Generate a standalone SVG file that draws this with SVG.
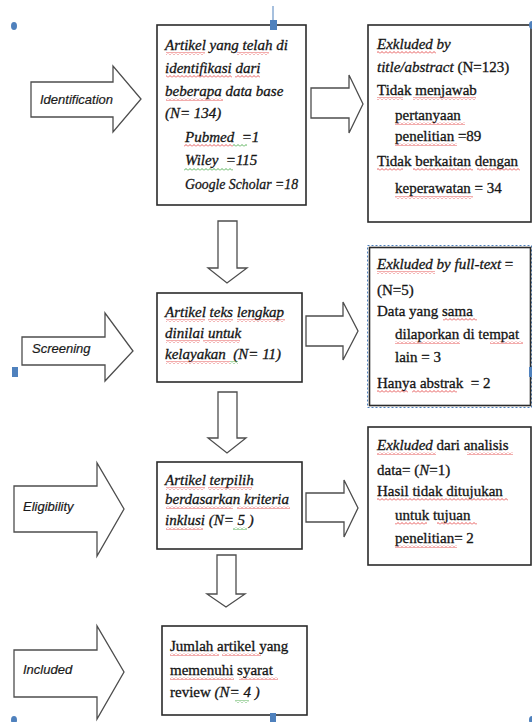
<svg xmlns="http://www.w3.org/2000/svg" width="532" height="722" viewBox="0 0 532 722">
<defs>
<style>
.box{fill:#fff;stroke:#2b2b2b;stroke-width:1.6}
.arr{fill:#fff;stroke:#4d4d4d;stroke-width:1.3;stroke-linejoin:miter}
.t{font-family:"Liberation Serif","Times New Roman",serif;font-size:15px;fill:#141414;stroke:#141414;stroke-width:0.3}
.i{font-style:italic}
.n{font-style:normal}
.lbl{font-family:"Liberation Sans",Arial,sans-serif;font-style:italic;font-size:13px;fill:#1a1a1a;stroke:#1a1a1a;stroke-width:0.2}
.h{fill:#4f81bd}
.wr{fill:url(#wavyR)}
.wg{fill:url(#wavyG)}
</style>
<pattern id="wavyR" width="4" height="3" patternUnits="userSpaceOnUse"><path d="M0,2.5 L2,0.5 L4,2.5" fill="none" stroke="#e03030" stroke-width="0.8"/></pattern>
<pattern id="wavyG" width="4" height="3" patternUnits="userSpaceOnUse"><path d="M0,2.5 L2,0.5 L4,2.5" fill="none" stroke="#2a9a2a" stroke-width="0.8"/></pattern>
</defs>

<g id="connectors">
<polygon class="arr" points="311,88 349,88 349,75 363,104 349,133 349,118 311,118"/>
<polygon class="arr" points="306,316 343,316 343,302 358,331 343,360 343,346 306,346"/>
<polygon class="arr" points="306,493 344,493 344,480 358,508 344,537 344,522 306,522"/>
<polygon class="arr" points="218,221 237,221 237,268 247,268 227,283 208,268 218,268"/>
<polygon class="arr" points="218,392 237,392 237,438 246,438 227,453 208,438 218,438"/>
<polygon class="arr" points="217,555 236,555 236,594 245,594 226,607 207,594 217,594"/>
</g>

<g id="stage-identification">
<polygon class="arr" points="31,82 113,82 113,66 141,99 113,132 113,117 31,117"/>
<text class="lbl" x="40" y="104">Identification</text>
</g>
<g id="stage-screening">
<polygon class="arr" points="22,337 105,337 105,313 133,351 105,381 105,365 22,365"/>
<text class="lbl" x="32" y="353">Screening</text>
</g>
<g id="stage-eligibility">
<polygon class="arr" points="14,486 97,486 97,463 124,509 97,556 97,532 14,532"/>
<text class="lbl" x="23" y="511">Eligibility</text>
</g>
<g id="stage-included">
<polygon class="arr" points="14,650 97,650 97,626 124,672 97,719 97,697 14,697"/>
<text class="lbl" x="23" y="674">Included</text>
</g>

<g id="box-identified">
<rect class="box" x="157" y="25" width="149" height="180"/>
<text class="t i" x="165" y="50">Artikel yang telah di</text>
<text class="t i" x="165" y="73">identifikasi dari</text>
<text class="t i" x="165" y="96">beberapa data base</text>
<text class="t i" x="165" y="118">(N= 134)</text>
<text class="t i" x="185" y="142">Pubmed&#160; =1</text>
<text class="t i" x="185" y="165">Wiley&#160; =115</text>
<text class="t i" x="185" y="189" textLength="113" lengthAdjust="spacingAndGlyphs">Google Scholar =18</text>
</g>

<g id="box-excluded-title">
<rect class="box" x="368" y="25" width="163" height="197"/>
<text class="t" x="377" y="49"><tspan class="i">Exkluded by</tspan></text>
<text class="t" x="377" y="72"><tspan class="i">title/abstract</tspan> (N=123)</text>
<text class="t" x="377" y="95">Tidak menjawab</text>
<text class="t" x="395" y="120">pertanyaan</text>
<text class="t" x="395" y="141">penelitian =89</text>
<text class="t" x="377" y="166">Tidak berkaitan dengan</text>
<text class="t" x="395" y="193">keperawatan = 34</text>
</g>

<g id="box-fulltext">
<rect class="box" x="157" y="293" width="145" height="89"/>
<text class="t i" x="165" y="317">Artikel teks lengkap</text>
<text class="t i" x="165" y="338">dinilai untuk</text>
<text class="t i" x="165" y="359">kelayakan&#160; (N= 11)</text>
</g>

<g id="box-excluded-fulltext">
<rect x="367.5" y="245.5" width="164" height="162" fill="none" stroke="#4f81bd" stroke-width="1" stroke-dasharray="2,2"/>
<rect class="box" x="369.5" y="247.5" width="161" height="158"/>
<text class="t" x="377" y="269"><tspan class="i">Exkluded by full-text</tspan> =</text>
<text class="t" x="377" y="295">(N=5)</text>
<text class="t" x="377" y="316">Data yang sama</text>
<text class="t" x="395" y="339">dilaporkan di tempat</text>
<text class="t" x="395" y="362">lain = 3</text>
<text class="t" x="377" y="388">Hanya abstrak&#160; = 2</text>
</g>

<g id="box-eligible">
<rect class="box" x="157" y="462" width="145" height="87"/>
<text class="t i" x="165" y="485">Artikel terpilih</text>
<text class="t i" x="165" y="504">berdasarkan kriteria</text>
<text class="t i" x="165" y="525">inklusi (N= 5 )</text>
</g>

<g id="box-excluded-analysis">
<rect class="box" x="368" y="427" width="163" height="138"/>
<text class="t" x="377" y="450"><tspan class="i">Exkluded</tspan> dari analisis</text>
<text class="t" x="377" y="475">data= (<tspan class="i">N</tspan>=1)</text>
<text class="t" x="377" y="496">Hasil tidak ditujukan</text>
<text class="t" x="395" y="520">untuk tujuan</text>
<text class="t" x="395" y="543">penelitian= 2</text>
</g>

<g id="box-included">
<rect class="box" x="162" y="626" width="145" height="89"/>
<text class="t" x="170" y="651">Jumlah artikel yang</text>
<text class="t" x="170" y="675">memenuhi syarat</text>
<text class="t" x="170" y="697">review <tspan class="i">(N= 4 )</tspan></text>
</g>

<g id="spellcheck-underlines">
<rect class="wr" x="166" y="52" width="39" height="3"/>
<rect class="wr" x="237" y="52" width="32" height="3"/>
<rect class="wr" x="166" y="75" width="66" height="3"/>
<rect class="wr" x="235" y="75" width="25" height="3"/>
<rect class="wr" x="166" y="98" width="57" height="3"/>
<rect class="wr" x="184" y="144" width="49" height="3"/>
<rect class="wg" x="233" y="144" width="14" height="3"/>
<rect class="wg" x="184" y="168" width="49" height="3"/>
<rect class="wr" x="377" y="51" width="59" height="3"/>
<rect class="wr" x="377" y="97" width="26" height="3"/>
<rect class="wr" x="413" y="97" width="63" height="3"/>
<rect class="wr" x="395" y="122" width="70" height="3"/>
<rect class="wr" x="395" y="143" width="62" height="3"/>
<rect class="wr" x="377" y="168" width="26" height="3"/>
<rect class="wr" x="413" y="168" width="60" height="3"/>
<rect class="wr" x="477" y="168" width="43" height="3"/>
<rect class="wr" x="395" y="196" width="78" height="3"/>
<rect class="wr" x="166" y="319" width="39" height="3"/>
<rect class="wr" x="208" y="319" width="25" height="3"/>
<rect class="wr" x="237" y="319" width="48" height="3"/>
<rect class="wr" x="166" y="340" width="34" height="3"/>
<rect class="wr" x="203" y="340" width="37" height="3"/>
<rect class="wr" x="166" y="361" width="64" height="3"/>
<rect class="wg" x="230" y="361" width="8" height="3"/>
<rect class="wr" x="377" y="271" width="58" height="3"/>
<rect class="wr" x="443" y="318" width="34" height="3"/>
<rect class="wr" x="395" y="341" width="65" height="3"/>
<rect class="wr" x="490" y="341" width="33" height="3"/>
<rect class="wr" x="377" y="390" width="31" height="3"/>
<rect class="wr" x="412" y="390" width="45" height="3"/>
<rect class="wr" x="166" y="487" width="39" height="3"/>
<rect class="wr" x="208" y="487" width="44" height="3"/>
<rect class="wr" x="166" y="506" width="67" height="3"/>
<rect class="wr" x="237" y="506" width="53" height="3"/>
<rect class="wr" x="166" y="527" width="37" height="3"/>
<rect class="wg" x="233" y="527" width="14" height="3"/>
<rect class="wr" x="377" y="452" width="59" height="3"/>
<rect class="wr" x="467" y="452" width="46" height="3"/>
<rect class="wr" x="377" y="498" width="131" height="3"/>
<rect class="wr" x="395" y="522" width="32" height="3"/>
<rect class="wr" x="437" y="522" width="40" height="3"/>
<rect class="wr" x="395" y="545" width="62" height="3"/>
<rect class="wr" x="170" y="653" width="49" height="3"/>
<rect class="wr" x="222" y="653" width="39" height="3"/>
<rect class="wr" x="170" y="677" width="64" height="3"/>
<rect class="wr" x="239" y="677" width="39" height="3"/>
<rect class="wg" x="235" y="700" width="14" height="3"/>
</g>

<g id="selection-handles">
<ellipse class="h" cx="14" cy="26" rx="3" ry="4"/>
<line x1="273" y1="6" x2="273" y2="20" stroke="#4f81bd" stroke-width="1"/>
<rect class="h" x="270" y="20" width="7" height="10"/>
<ellipse class="h" cx="532" cy="25" rx="3" ry="4"/>
<rect class="h" x="12" y="367" width="6" height="10"/>
<rect class="h" x="529" y="367" width="4" height="10"/>
<ellipse class="h" cx="14" cy="720" rx="3" ry="4"/>
<rect class="h" x="270" y="713" width="6" height="9"/>
<ellipse class="h" cx="532" cy="720" rx="3" ry="4"/>
</g>
</svg>
